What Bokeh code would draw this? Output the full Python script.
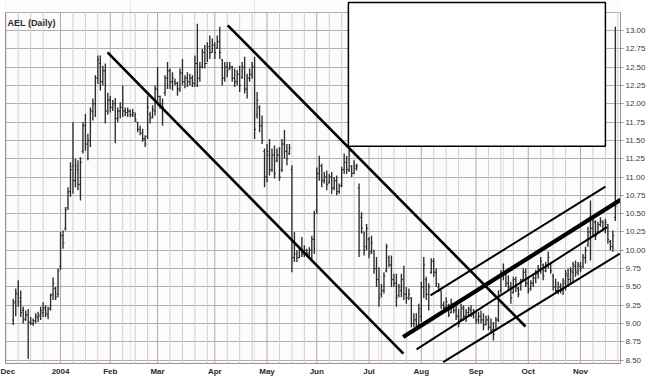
import numpy as np
import pandas as pd
from bokeh.plotting import figure
from bokeh.models import (Range1d, LinearAxis, FixedTicker, Grid, Label,
                          ColumnDataSource, PrintfTickFormatter)
from bokeh.embed import file_html
from bokeh.resources import INLINE

# ---------------- data ----------------
market_holidays = ["2003-12-25", "2004-01-01", "2004-01-19", "2004-02-16",
                   "2004-04-09", "2004-05-31", "2004-06-11", "2004-07-05",
                   "2004-09-06", "2004-11-25"]
first_bar_date = "2003-12-04"

opens = [
    9.05, 9.28, 9.40, 9.35, 9.18, 9.06, 9.12, 9.02, 9.00, 9.04,
    9.08, 9.10, 9.15, 9.20, 9.12, 9.20, 9.40, 9.48, 9.40, 9.78,
    10.20, 10.30, 10.58, 10.80, 11.15, 10.95, 11.10, 10.90, 11.35, 11.70,
    11.45, 11.50, 11.90, 12.00, 12.35, 12.55, 12.30, 12.45, 11.90, 12.05,
    11.95, 12.00, 11.80, 11.90, 11.95, 11.90, 11.88, 11.90, 11.85, 11.85,
    11.75, 11.65, 11.60, 11.52, 11.55, 11.85, 11.82, 11.90, 12.20, 12.10,
    12.00, 12.15, 12.35, 12.45, 12.30, 12.30, 12.28, 12.20, 12.42, 12.30,
    12.35, 12.30, 12.35, 12.28, 12.55, 12.35, 12.50, 12.70, 12.55, 12.78,
    12.70, 12.80, 12.76, 12.85, 12.60, 12.35, 12.50, 12.48, 12.50, 12.35,
    12.30, 12.40, 12.36, 12.50, 12.20, 12.35, 12.40, 12.50, 11.85, 11.95,
    11.70, 11.35, 11.00, 11.30, 11.10, 11.30, 11.22, 11.30, 11.10, 11.45,
    11.35, 11.32, 11.10, 9.90, 9.95, 9.90, 10.00, 9.95, 10.00, 9.95,
    10.00, 10.15, 10.55, 11.05, 11.15, 10.95, 11.00, 10.92, 11.00, 10.85,
    10.95, 10.80, 10.88, 11.10, 11.20, 11.10, 11.15, 11.05, 11.12, 10.85,
    10.45, 10.25, 10.05, 10.15, 9.98, 10.00, 9.75, 9.60, 9.40, 9.45,
    9.72, 9.90, 9.80, 9.60, 9.55, 9.38, 9.45, 9.60, 9.40, 9.35,
    9.35, 9.00, 9.05, 8.98, 9.10, 9.50, 9.60, 9.40, 9.70, 9.85,
    9.70, 9.50, 9.45, 9.25, 9.22, 9.25, 9.15, 9.25, 9.18, 9.10,
    9.06, 9.20, 9.10, 9.15, 9.18, 9.12, 9.15, 9.05, 9.10, 9.05,
    8.98, 9.05, 8.95, 8.92, 8.92, 9.05, 9.45, 9.65, 9.70, 9.55,
    9.50, 9.42, 9.60, 9.48, 9.46, 9.60, 9.70, 9.55, 9.48, 9.55,
    9.62, 9.68, 9.75, 9.80, 9.72, 9.80, 9.82, 9.65, 9.50, 9.45,
    9.50, 9.45, 9.55, 9.65, 9.60, 9.70, 9.78, 9.72, 9.78, 9.78,
    9.90, 10.07, 10.25, 10.30, 10.38, 10.25, 10.35, 10.38, 10.30, 10.35,
    10.12, 10.05, 10.45,
]
highs = [
    9.34, 9.48, 9.59, 9.45, 9.23, 9.18, 9.20, 9.09, 9.07, 9.14,
    9.16, 9.23, 9.29, 9.25, 9.23, 9.41, 9.63, 9.50, 9.75, 10.25,
    10.27, 10.59, 10.86, 11.20, 11.75, 11.25, 11.23, 11.27, 11.75, 11.86,
    11.59, 11.95, 12.07, 12.39, 12.66, 12.66, 12.52, 12.55, 12.15, 12.11,
    12.05, 12.08, 11.95, 12.02, 12.25, 11.95, 11.95, 11.92, 11.93, 11.88,
    11.75, 11.70, 11.66, 11.57, 12.11, 11.89, 11.98, 12.25, 12.50, 12.11,
    12.07, 12.39, 12.57, 12.48, 12.43, 12.34, 12.30, 12.48, 12.61, 12.39,
    12.43, 12.41, 12.39, 12.66, 13.09, 12.57, 12.75, 12.80, 12.84, 12.93,
    12.89, 12.84, 12.93, 13.05, 12.61, 12.57, 12.57, 12.57, 12.52, 12.48,
    12.46, 12.52, 12.57, 12.64, 12.41, 12.48, 12.57, 12.64, 12.16, 11.98,
    11.84, 11.39, 11.45, 11.52, 11.39, 11.43, 11.39, 11.41, 11.52, 11.64,
    11.45, 11.45, 11.16, 10.25, 10.00, 10.04, 10.18, 10.07, 10.02, 10.04,
    10.20, 10.54, 11.13, 11.29, 11.18, 11.07, 11.09, 11.04, 11.07, 11.00,
    11.02, 10.91, 11.14, 11.32, 11.29, 11.43, 11.16, 11.23, 11.18, 10.91,
    10.52, 10.25, 10.36, 10.18, 10.20, 10.00, 9.91, 9.77, 9.54, 9.70,
    10.09, 9.93, 9.93, 9.68, 9.68, 9.54, 9.68, 9.79, 9.50, 9.48,
    9.36, 9.14, 9.14, 9.27, 9.57, 9.91, 9.64, 9.55, 9.89, 9.89,
    9.75, 9.55, 9.45, 9.30, 9.36, 9.27, 9.34, 9.27, 9.25, 9.20,
    9.27, 9.25, 9.20, 9.23, 9.25, 9.20, 9.18, 9.16, 9.18, 9.14,
    9.11, 9.11, 9.07, 9.02, 9.09, 9.45, 9.73, 9.82, 9.73, 9.66,
    9.57, 9.64, 9.64, 9.50, 9.61, 9.75, 9.75, 9.64, 9.59, 9.68,
    9.73, 9.80, 9.91, 9.82, 9.84, 9.98, 9.84, 9.68, 9.61, 9.57,
    9.55, 9.62, 9.73, 9.75, 9.77, 9.84, 9.86, 9.84, 9.84, 9.95,
    10.05, 10.32, 10.68, 10.45, 10.41, 10.39, 10.45, 10.41, 10.43, 10.36,
    10.14, 10.27, 13.05,
]
lows = [
    8.98, 9.10, 9.23, 9.09, 9.00, 9.04, 8.52, 8.98, 8.97, 9.00,
    9.02, 9.05, 9.09, 9.09, 9.06, 9.18, 9.32, 9.32, 9.36, 9.73,
    10.02, 10.27, 10.55, 10.73, 10.77, 10.86, 10.82, 10.68, 11.32, 11.36,
    11.23, 11.41, 11.77, 11.82, 12.27, 12.18, 12.25, 11.73, 11.85, 11.88,
    11.90, 11.46, 11.75, 11.80, 11.82, 11.83, 11.82, 11.82, 11.82, 11.75,
    11.61, 11.57, 11.48, 11.41, 11.52, 11.73, 11.80, 11.84, 12.02, 11.93,
    11.70, 12.11, 12.20, 12.20, 12.18, 12.25, 12.11, 12.16, 12.25, 12.21,
    12.23, 12.25, 12.23, 12.23, 12.23, 12.30, 12.48, 12.48, 12.57, 12.61,
    12.70, 12.61, 12.75, 12.61, 12.25, 12.30, 12.36, 12.46, 12.30, 12.23,
    12.25, 12.16, 12.34, 12.14, 12.07, 12.30, 12.34, 11.52, 11.80, 11.61,
    11.45, 10.86, 10.93, 11.02, 11.07, 10.98, 11.20, 10.95, 11.07, 11.25,
    11.16, 11.30, 9.70, 9.84, 9.84, 9.89, 9.91, 9.91, 9.93, 9.91,
    9.88, 9.95, 10.50, 10.95, 10.86, 10.91, 10.82, 10.91, 10.77, 10.82,
    10.75, 10.77, 10.86, 11.04, 11.04, 11.07, 11.00, 11.04, 11.09, 9.91,
    10.23, 9.93, 10.00, 9.89, 9.95, 9.68, 9.50, 9.23, 9.36, 9.41,
    9.70, 9.77, 9.50, 9.50, 9.23, 9.36, 9.36, 9.32, 9.27, 9.32,
    8.95, 8.95, 8.91, 8.98, 9.02, 9.35, 9.32, 9.18, 9.68, 9.64,
    9.50, 9.43, 9.20, 9.18, 9.18, 9.09, 9.14, 9.14, 9.05, 8.95,
    9.05, 9.04, 9.02, 9.09, 9.09, 9.07, 9.00, 9.00, 9.00, 8.91,
    8.98, 8.91, 8.86, 8.77, 8.91, 9.02, 9.41, 9.59, 9.50, 9.45,
    9.27, 9.41, 9.43, 9.36, 9.45, 9.59, 9.50, 9.41, 9.45, 9.50,
    9.55, 9.61, 9.68, 9.59, 9.70, 9.75, 9.68, 9.45, 9.41, 9.40,
    9.41, 9.39, 9.45, 9.50, 9.55, 9.55, 9.64, 9.66, 9.70, 9.75,
    9.82, 10.05, 9.86, 10.18, 10.14, 10.23, 10.32, 10.27, 10.23, 10.09,
    10.00, 9.98, 10.40,
]
closes = [
    9.30, 9.42, 9.30, 9.15, 9.05, 9.12, 9.02, 9.00, 9.04, 9.10,
    9.12, 9.18, 9.22, 9.14, 9.20, 9.38, 9.55, 9.36, 9.72, 10.20,
    10.10, 10.55, 10.80, 11.10, 10.95, 11.15, 10.90, 11.20, 11.70, 11.45,
    11.50, 11.90, 12.00, 12.35, 12.60, 12.30, 12.45, 11.90, 12.05, 11.95,
    12.00, 11.80, 11.90, 11.95, 11.90, 11.88, 11.90, 11.85, 11.88, 11.78,
    11.65, 11.60, 11.52, 11.45, 11.95, 11.80, 11.92, 12.20, 12.10, 12.00,
    11.95, 12.35, 12.45, 12.30, 12.35, 12.28, 12.20, 12.42, 12.30, 12.35,
    12.30, 12.35, 12.28, 12.55, 12.35, 12.50, 12.70, 12.55, 12.78, 12.70,
    12.80, 12.70, 12.85, 12.70, 12.35, 12.50, 12.45, 12.50, 12.35, 12.30,
    12.40, 12.25, 12.50, 12.20, 12.35, 12.40, 12.50, 11.65, 12.05, 11.70,
    11.50, 11.00, 11.35, 11.10, 11.30, 11.05, 11.30, 11.00, 11.45, 11.35,
    11.25, 11.40, 9.90, 10.10, 9.90, 10.00, 9.95, 10.00, 9.95, 10.00,
    10.15, 10.50, 11.05, 11.15, 10.95, 11.00, 10.90, 11.00, 10.85, 10.95,
    10.80, 10.88, 11.10, 11.20, 11.10, 11.35, 11.05, 11.15, 11.15, 10.00,
    10.30, 10.00, 10.30, 9.95, 10.10, 9.75, 9.60, 9.35, 9.45, 9.65,
    10.05, 9.80, 9.60, 9.55, 9.35, 9.50, 9.60, 9.40, 9.35, 9.40,
    9.00, 9.05, 8.95, 9.20, 9.50, 9.80, 9.40, 9.50, 9.85, 9.70,
    9.55, 9.45, 9.25, 9.22, 9.30, 9.12, 9.28, 9.18, 9.10, 9.00,
    9.22, 9.10, 9.15, 9.20, 9.12, 9.15, 9.05, 9.10, 9.05, 8.98,
    9.05, 8.95, 8.90, 8.85, 9.05, 9.40, 9.65, 9.70, 9.55, 9.50,
    9.35, 9.60, 9.50, 9.40, 9.58, 9.70, 9.55, 9.45, 9.55, 9.62,
    9.68, 9.75, 9.85, 9.65, 9.80, 9.90, 9.72, 9.50, 9.45, 9.50,
    9.45, 9.58, 9.68, 9.60, 9.72, 9.80, 9.70, 9.80, 9.75, 9.90,
    10.00, 10.25, 10.30, 10.40, 10.20, 10.35, 10.40, 10.30, 10.38, 10.15,
    10.05, 10.20, 10.60,
]

month_labels = ["Dec", "2004", "Feb", "Mar", "Apr", "May", "Jun",
                "Jul", "Aug", "Sep", "Oct", "Nov"]
price_ticks = [8.50, 8.75, 9.00, 9.25, 9.50, 9.75, 10.00, 10.25, 10.50,
               10.75, 11.00, 11.25, 11.50, 11.75, 12.00, 12.25, 12.50,
               12.75, 13.00]
price_top = 13.25

# drawn trend / channel lines, as (trading-day index, price) end points
trend_x0 = [40.9, 89.2, 159.7, 170.7, 165.1, 175.8]
trend_y0 = [12.70, 13.07, 8.816, 9.385, 8.648, 8.475]
trend_x1 = [159.8, 208.9, 247.1, 241.0, 241.7, 246.8]
trend_y1 = [8.59, 8.96, 10.69, 10.87, 10.317, 9.954]
trend_width = [2.6, 2.6, 4.2, 2.0, 2.0, 2.0]

# blank note box (trading-day index / price)
box_left, box_right, box_bottom, box_top = 137.7, 241.0, 11.42, 13.38

# ---------------- derived ----------------
n = len(highs)
assert len(opens) == n and len(lows) == n and len(closes) == n

trading_days = pd.bdate_range("2003-12-01", "2004-11-30", freq="C",
                              holidays=market_holidays)
start = int(np.where(trading_days == pd.Timestamp(first_bar_date))[0][0])
xs = np.arange(start, start + n)

months = trading_days.to_period("M")
month_starts = [k for k in range(len(trading_days))
                if k == 0 or months[k] != months[k - 1]]
bounds_ext = month_starts + [len(trading_days)]
week_lines = []
for a, b in zip(bounds_ext[:-1], bounds_ext[1:]):
    week_lines += list(range(a + 5, b - 2, 5))

y_lo, y_hi = 8.455, 13.409
x_lo, x_hi = -0.12, 247.07

GRID_H = "#bcabab"
GRID_V = "#d6cdcd"
GRID_M = "#b6a6a6"
BORDER = "#a09090"
BAR = "#2c2c2c"

p = figure(width=648, height=381, output_backend="svg", toolbar_location=None,
           title=None, x_range=Range1d(x_lo, x_hi), y_range=Range1d(y_lo, y_hi),
           x_axis_location=None, y_axis_location=None,
           min_border_left=5, min_border_right=28, min_border_top=0,
           min_border_bottom=18)
p.outline_line_color = None
p.background_fill_color = "#fcfcfc"
p.border_fill_color = "white"

# horizontal grid
hgrid = Grid(dimension=1, ticker=FixedTicker(ticks=price_ticks + [price_top]),
             grid_line_color=GRID_H, grid_line_width=1)
p.add_layout(hgrid)

# vertical grid (weekly light, monthly darker), stopping at the top border
p.segment(x0=week_lines, y0=[y_lo] * len(week_lines), x1=week_lines,
          y1=[price_top] * len(week_lines), line_color=GRID_V, line_width=1)
p.segment(x0=month_starts, y0=[y_lo] * len(month_starts), x1=month_starts,
          y1=[price_top] * len(month_starts), line_color=GRID_M, line_width=1)

# OHLC bars
src = ColumnDataSource(dict(x=xs, xl=xs - 0.55, xr=xs + 0.55, o=opens, h=highs,
                            l=lows, c=closes))
p.segment(x0="x", y0="l", x1="x", y1="h", source=src, line_color=BAR, line_width=1.35)
p.segment(x0="xl", y0="o", x1="x", y1="o", source=src, line_color=BAR, line_width=1)
p.segment(x0="x", y0="c", x1="xr", y1="c", source=src, line_color=BAR, line_width=1)

# trend lines
p.segment(x0=trend_x0, y0=trend_y0, x1=trend_x1, y1=trend_y1,
          line_color="black", line_width=trend_width)

# blank box
p.quad(left=[box_left], right=[box_right], bottom=[box_bottom], top=[box_top],
       fill_color="white", line_color="black", line_width=1.5)

# axes
right_axis = LinearAxis(ticker=FixedTicker(ticks=price_ticks),
                        formatter=PrintfTickFormatter(format="%.2f"),
                        bounds=(y_lo, price_top))
right_axis.axis_line_color = BORDER
right_axis.major_tick_line_color = BORDER
right_axis.major_tick_out = 3
right_axis.major_tick_in = 0
right_axis.minor_tick_line_color = None
right_axis.major_label_standoff = 2
right_axis.major_label_text_font = "Liberation Sans"
right_axis.major_label_text_font_size = "8px"
right_axis.major_label_text_color = "#3a3a3a"
p.add_layout(right_axis, "right")

bottom_axis = LinearAxis(ticker=FixedTicker(ticks=month_starts),
                         major_label_overrides={m: lab for m, lab in zip(month_starts, month_labels)})
bottom_axis.axis_line_color = BORDER
bottom_axis.major_tick_line_color = None
bottom_axis.minor_tick_line_color = None
bottom_axis.major_tick_out = 0
bottom_axis.major_tick_in = 0
bottom_axis.major_label_standoff = 3
bottom_axis.major_label_text_font = "Liberation Sans"
bottom_axis.major_label_text_font_style = "bold"
bottom_axis.major_label_text_font_size = "8px"
bottom_axis.major_label_text_color = "#2a2a2a"
p.add_layout(bottom_axis, "below")

left_axis = LinearAxis(ticker=FixedTicker(ticks=[]), bounds=(y_lo, price_top))
left_axis.axis_line_color = BORDER
left_axis.major_tick_line_color = None
left_axis.minor_tick_line_color = None
left_axis.major_tick_out = 0
left_axis.major_tick_in = 0
left_axis.major_label_standoff = 0
left_axis.major_label_text_font_size = "0px"
p.add_layout(left_axis, "left")

p.add_layout(Label(x=0.7, y=13.105, text="AEL (Daily)", text_font="Liberation Sans",
                   text_font_style="bold", text_font_size="9px",
                   text_color="#2a2a2a", text_baseline="alphabetic"))

open("out.html", "w").write(file_html(p, INLINE, title="AEL (Daily)"))
